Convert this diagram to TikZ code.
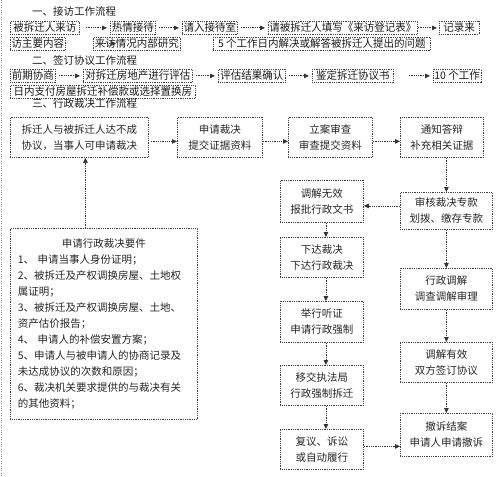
\documentclass[tikz,border=0pt]{standalone}
\usepackage{fontspec}
\newfontfamily\cjk{Noto Sans CJK SC}
\usetikzlibrary{arrows.meta,positioning,calc}

\begin{document}
\begin{tikzpicture}[x=1pt,y=-1pt,>={Triangle[length=5pt,width=4.5pt]},
  font=\cjk\fontsize{10.5}{16}\selectfont,
  tbox/.style={draw=black!75,densely dotted,line width=0.8pt,inner sep=1pt,minimum height=13pt,anchor=north west,text=black!90},
  bbox/.style={draw=black!75,densely dotted,line width=0.8pt,align=center,anchor=north west,minimum height=40pt,text=black!85},
  arr/.style={->,draw=black!80,densely dotted,line width=0.8pt,shorten <=3pt,shorten >=3pt},
  varr/.style={->,draw=black!80,densely dotted,line width=0.8pt},
  title/.style={anchor=west,inner sep=0pt,text=black!90}]
\useasboundingbox (0,0) rectangle (500,476);
\draw[black!45,dotted] (1,0) -- (1,476);
% 一、接访
\node[title] (t1) at (32,12) {一、接访工作流程};
\node[tbox,minimum width=69pt] (r1a) at (10,21) {被拆迁人来访};
\node[tbox,minimum width=45pt] (r1b) at (110,21) {热情接待};
\node[tbox,minimum width=55pt] (r1c) at (182,21) {请入接待室};
\node[tbox,minimum width=149pt] (r1d) at (268,21) {请被拆迁人填写《来访登记表》};
\node[tbox,minimum width=39pt,inner xsep=4pt] (r1e) at (439,21) {记录来};
\draw[arr,shorten <=6pt] (r1a)--(r1b);\draw[arr] (r1b)--(r1c);\draw[arr] (r1c)--(r1d);\draw[arr,shorten <=0pt,shorten >=2pt] (r1d)--(r1e);
\node[tbox,minimum width=55pt] (r2a) at (10,37) {访主要内容};
\node[tbox,minimum width=87pt] (r2b) at (93,37) {来访情况内部研究};
\node[tbox,minimum width=217pt] (r2c) at (213,37) {5 个工作日内解决或解答被拆迁人提出的问题};
\coordinate (r2s) at (100,43.5);
\coordinate (r2e) at (116,43.5);
\draw[varr] (r2s)--(r2e);
% 二、签订协议
\node[title] (t2) at (32,61) {二、签订协议工作流程};
\node[tbox,minimum width=45pt] (r3a) at (10,69) {前期协商};
\node[tbox,minimum width=109pt] (r3b) at (83,69) {对拆迁房地产进行评估};
\node[tbox,minimum width=67pt] (r3c) at (218,69) {评估结果确认};
\node[tbox,minimum width=81pt] (r3d) at (312,69) {鉴定拆迁协议书};
\node[tbox,minimum width=45pt] (r3e) at (433,69) {10 个工作};
\draw[arr] (r3a)--(r3b);\draw[arr] (r3b)--(r3c);\draw[arr] (r3c)--(r3d);\draw[arr,shorten <=15pt] (r3d)--(r3e);
\node[tbox,minimum width=185pt] (r4a) at (10,85) {日内支付房屋拆迁补偿款或选择置换房};
% 三、行政裁决
\node[title] (t3) at (32,104) {三、行政裁决工作流程};
\node[bbox,minimum width=138pt] (A) at (10,117) {拆迁人与被拆迁人达不成\\协议，当事人可申请裁决};
\node[bbox,minimum width=85pt] (B) at (177,117) {申请裁决\\提交证据资料};
\node[bbox,minimum width=84pt] (C) at (288,117) {立案审查\\审查提交资料};
\node[bbox,minimum width=83pt] (D) at (400,117) {通知答辩\\补充相关证据};
\node[bbox,minimum width=83pt,minimum height=42pt] (F) at (280,180) {调解无效\\报批行政文书};
\node[bbox,minimum width=92pt,minimum height=37pt] (E) at (400,192) {审核裁决专款\\划拨、缴存专款};
\node[bbox,minimum width=83pt] (G) at (280,237) {下达裁决\\下达行政裁决};
\node[bbox,minimum width=92pt,minimum height=41pt] (H) at (400,268) {行政调解\\调查调解审理};
\node[bbox,minimum width=83pt,minimum height=41pt] (I) at (280,301) {举行听证\\申请行政强制};
\node[bbox,minimum width=92pt] (J) at (400,342) {调解有效\\双方签订协议};
\node[bbox,minimum width=83pt] (K) at (280,365) {移交执法局\\行政强制拆迁};
\node[bbox,minimum width=92pt,minimum height=43pt] (M) at (400,413) {撤诉结案\\申请人申请撤诉};
\node[bbox,minimum width=83pt] (L) at (280,429) {复议、诉讼\\或自动履行};
\node[bbox,minimum width=187pt,minimum height=191pt,text width=172pt,inner xsep=7.5pt,align=left] (N) at (10,228) {\makebox[172pt]{申请行政裁决要件}\\
1、 申请当事人身份证明；\\
2、被拆迁及产权调换房屋、土地权\\
属证明；\\
3、被拆迁及产权调换房屋、土地、\\
资产估价报告；\\
4、 申请人的补偿安置方案；\\
5、申请人与被申请人的协商记录及\\
未达成协议的次数和原因；\\
6、裁决机关要求提供的与裁决有关\\
的其他资料；};
\draw[varr,shorten <=2pt] ([yshift=-4pt]A.east)--([yshift=-4pt]B.west);
\draw[varr] ([yshift=-4pt]B.east)--([yshift=-4pt]C.west);
\draw[varr] ([yshift=-4pt]C.east)--([yshift=-4pt]D.west);
\draw[varr] (D.south -| E.north)--(E.north);
\coordinate (ef) at ([yshift=5pt]E.west);
\draw[varr] (ef)--(ef -| F.east);
\draw[varr] ([xshift=4pt]F.south)--([xshift=4pt]G.north);
\draw[varr] ([xshift=4pt]G.south)--([xshift=4pt]I.north);
\draw[varr] ([xshift=4pt]I.south)--([xshift=4pt]K.north);
\draw[varr] ([xshift=4pt]K.south)--([xshift=4pt]L.north);
\draw[varr] (E.south)--(H.north);\draw[varr] (H.south)--(J.north);\draw[varr] (J.south)--(M.north);
\coordinate (lm) at ([yshift=3pt]L.east);
\draw[varr] (lm)--(lm -| M.west);
\coordinate (na) at ([xshift=6pt]A.south);
\draw[varr] (na |- N.north)--(na);
\end{tikzpicture}
\end{document}
